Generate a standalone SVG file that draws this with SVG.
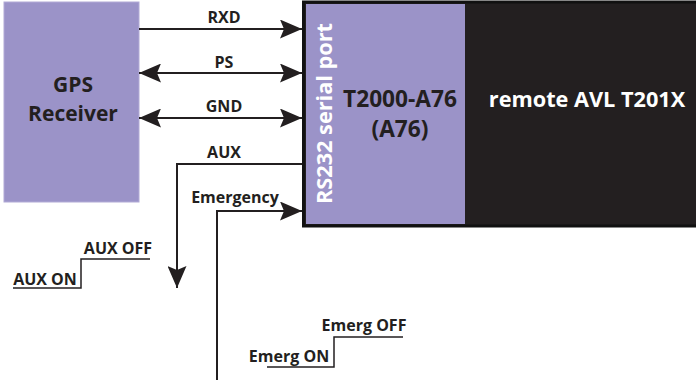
<svg xmlns="http://www.w3.org/2000/svg" width="696" height="380" viewBox="0 0 696 380">
<style>
text{font-family:"Open Sans","Liberation Sans",sans-serif;font-weight:bold;}
.lbl{font-size:16px;fill:#231f20;}
.big{font-size:21px;fill:#231f20;}
.wl{fill:#ffffff;}
.ln{stroke:#231f20;stroke-width:2;fill:none;}
.thin{stroke:#231f20;stroke-width:1.5;fill:none;}
</style>
<defs>
<marker id="ah" viewBox="0 0 22 19" refX="22" refY="9.5" markerWidth="22" markerHeight="19" markerUnits="userSpaceOnUse" orient="auto-start-reverse">
<path d="M0,0 L22,9.5 L0,19 L4,9.5 Z" fill="#231f20"/>
</marker>
</defs>
<g id="gps">
<rect x="4" y="2" width="135" height="200" fill="#9b93c8" stroke="#b1aad6" stroke-width="1"/>
<text class="big" x="73" y="92" text-anchor="middle">GPS</text>
<text class="big" x="73" y="121" text-anchor="middle">Receiver</text>
</g>
<g id="avl">
<rect x="303.5" y="2" width="394" height="224" fill="#231f20" stroke="#111" stroke-width="3"/>
<text class="big wl" x="587" y="107" text-anchor="middle" style="font-size:21.7px">remote AVL T201X</text>
</g>
<g id="a76">
<rect x="306" y="4" width="159" height="220" fill="#9b93c8"/>
<text class="big" x="400" y="107" text-anchor="middle" style="font-size:22.7px">T2000-A76</text>
<text class="big" x="400" y="137" text-anchor="middle" style="font-size:22.7px">(A76)</text>
<text class="big wl" transform="translate(332,204) rotate(-90)" textLength="181" lengthAdjust="spacingAndGlyphs">RS232 serial port</text>
</g>
<g id="connectors">
<line class="ln" x1="139" y1="29" x2="302" y2="29" marker-end="url(#ah)"/>
<line class="ln" x1="139" y1="73" x2="302" y2="73" marker-start="url(#ah)" marker-end="url(#ah)"/>
<line class="ln" x1="139" y1="118" x2="302" y2="118" marker-start="url(#ah)" marker-end="url(#ah)"/>
<polyline class="ln" points="302,164 177,164 177,288" marker-end="url(#ah)"/>
<polyline class="ln" points="217,380 217,211 302,211" marker-end="url(#ah)"/>
<text class="lbl" x="224" y="23" text-anchor="middle">RXD</text>
<text class="lbl" x="224" y="68" text-anchor="middle">PS</text>
<text class="lbl" x="224" y="112" text-anchor="middle">GND</text>
<text class="lbl" x="224" y="158" text-anchor="middle">AUX</text>
<text class="lbl" x="235" y="203" text-anchor="middle">Emergency</text>
</g>
<g id="aux-signal">
<polyline class="thin" points="13,288 81,288 81,259 150,259"/>
<text class="lbl" x="45" y="285" text-anchor="middle">AUX ON</text>
<text class="lbl" x="118" y="254" text-anchor="middle">AUX OFF</text>
</g>
<g id="emerg-signal">
<polyline class="thin" points="267,367 334,367 334,337 403,337"/>
<text class="lbl" x="289" y="362" text-anchor="middle">Emerg ON</text>
<text class="lbl" x="364" y="331" text-anchor="middle">Emerg OFF</text>
</g>
</svg>
